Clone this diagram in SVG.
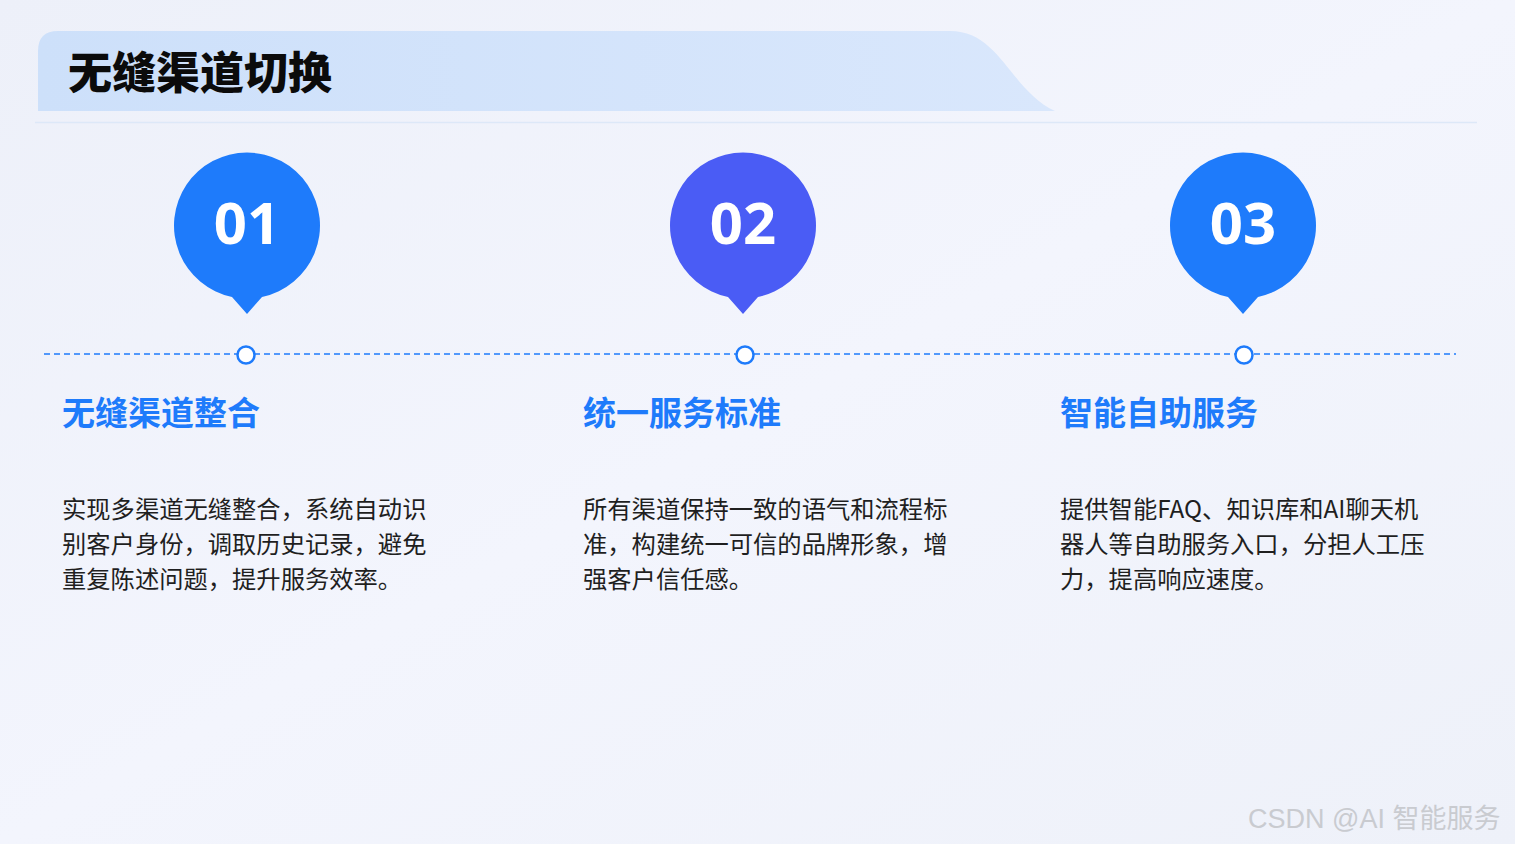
<svg xmlns="http://www.w3.org/2000/svg" width="1515" height="844" viewBox="0 0 1515 844">
<defs>
<linearGradient id="bg" x1="0" y1="0" x2="1" y2="1">
<stop offset="0" stop-color="#edf0f9"/>
<stop offset="0.5" stop-color="#f3f5fd"/>
<stop offset="1" stop-color="#eef1f9"/>
</linearGradient>
<linearGradient id="band" x1="0" y1="0" x2="1" y2="0">
<stop offset="0" stop-color="#cde0fa"/>
<stop offset="1" stop-color="#d9e7fc"/>
</linearGradient>
<style>
.cjk{font-family:"Noto Sans CJK SC","Noto Sans",sans-serif}
.title{font-size:44px;font-weight:900;fill:#0b0b0b}
.num{font-family:"Noto Sans","Open Sans",sans-serif;font-size:58px;font-weight:700;fill:#fff;text-anchor:middle}
.head{font-size:33px;font-weight:700;fill:#1e7bfb}
.body{font-size:24.3px;fill:#1f1f1f}
.dot{fill:#fff;stroke:#1e7bfb;stroke-width:2.5}
.wm{font-family:"Liberation Sans","Noto Sans CJK SC",sans-serif;font-size:27px;font-weight:400;fill:#c9cbd0}
</style>
</defs>
<rect width="1515" height="844" fill="url(#bg)"/>
<g id="header">
<path d="M58 31 H950 C1000 31 1010 90 1055 111 H38 V51 Q38 31 58 31 Z" fill="url(#band)"/>
<text x="68" y="89" class="cjk title">无缝渠道切换</text>
<line x1="35" y1="122.5" x2="1477" y2="122.5" stroke="#dde8f8" stroke-width="1.5"/>
</g>
<g id="connectors">
<line x1="44" y1="354" x2="1456" y2="354" stroke="#1e7bfb" stroke-width="1.5" stroke-dasharray="6 4"/>
</g>
<g id="node1">
<path d="M232 297 A73 73 0 1 1 262 297 L247 314 Z" fill="#1e7bfb"/>
<text x="247" y="244" class="num">01</text>
<circle cx="246" cy="355" r="8.5" class="dot"/>
<text x="62" y="425" class="cjk head">无缝渠道整合</text>
<text class="cjk body"><tspan x="62" y="518">实现多渠道无缝整合，系统自动识</tspan><tspan x="62" y="553">别客户身份，调取历史记录，避免</tspan><tspan x="62" y="588">重复陈述问题，提升服务效率。</tspan></text>
</g>
<g id="node2">
<path d="M728 297 A73 73 0 1 1 758 297 L743 314 Z" fill="#4a5cf5"/>
<text x="743" y="244" class="num">02</text>
<circle cx="745" cy="355" r="8.5" class="dot"/>
<text x="583" y="425" class="cjk head">统一服务标准</text>
<text class="cjk body"><tspan x="583" y="518">所有渠道保持一致的语气和流程标</tspan><tspan x="583" y="553">准，构建统一可信的品牌形象，增</tspan><tspan x="583" y="588">强客户信任感。</tspan></text>
</g>
<g id="node3">
<path d="M1228 297 A73 73 0 1 1 1258 297 L1243 314 Z" fill="#1e7bfb"/>
<text x="1243" y="244" class="num">03</text>
<circle cx="1244" cy="355" r="8.5" class="dot"/>
<text x="1060" y="425" class="cjk head">智能自助服务</text>
<text class="cjk body"><tspan x="1060" y="518">提供智能FAQ、知识库和AI聊天机</tspan><tspan x="1060" y="553">器人等自助服务入口，分担人工压</tspan><tspan x="1060" y="588">力，提高响应速度。</tspan></text>
</g>
<text x="1248" y="828" class="wm">CSDN @AI 智能服务</text>
</svg>
